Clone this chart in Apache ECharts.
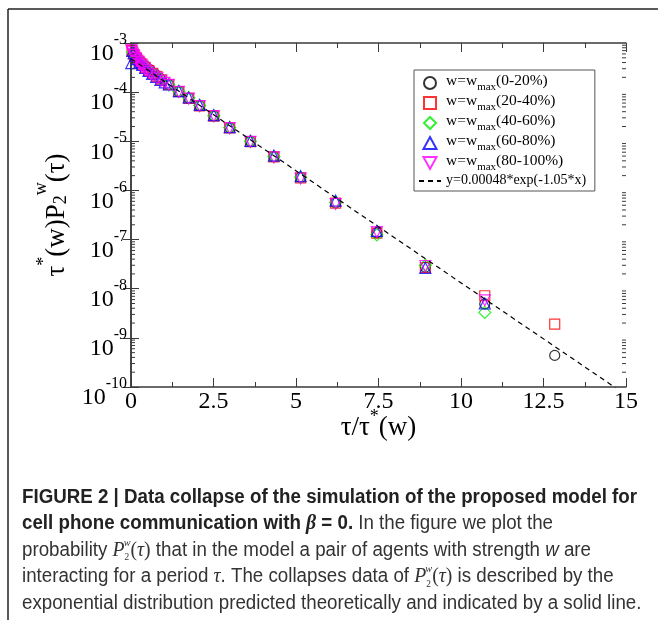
<!DOCTYPE html>
<html lang="en">
<head>
<meta charset="UTF-8" />
<title>Data collapse of P2w(tau)</title>
<script src="https://cdn.jsdelivr.net/npm/echarts@6/dist/echarts.min.js"></script>
<style>
  html, body { margin: 0; padding: 0; background: #fff; }
  #main { width: 658px; height: 620px; }
</style>
</head>
<body>
<div id="main"></div>
<script>
  // values (x = tau/tau*(w), y = tau*(w) P2w(tau))
  const w0_20X = [0.07, 0.18, 0.30, 0.43, 0.57, 0.72, 0.88, 1.145, 1.45, 1.75, 2.08, 2.51, 2.99, 3.62, 4.33, 5.14, 6.2, 7.45, 8.92, 10.72, 12.84];
  const w0_20Y = [6.2e-4, 5.0e-4, 4.1e-4, 3.4e-4, 2.85e-4, 2.35e-4, 1.9e-4, 1.43e-4, 1.03e-4, 7.6e-5, 5.3e-5, 3.3e-5, 1.9e-5, 9.9e-6, 4.9e-6, 1.85e-6, 5.6e-7, 1.38e-7, 2.75e-8, 4.9e-9, 4.4e-10];

  const w20_40X = [0.03, 0.09, 0.16, 0.24, 0.33, 0.43, 0.54, 0.66, 0.79, 0.93, 1.145, 1.45, 1.75, 2.08, 2.51, 2.99, 3.62, 4.33, 5.14, 6.2, 7.45, 8.92, 10.72, 12.84];
  const w20_40Y = [7.0e-4, 5.9e-4, 5.0e-4, 4.3e-4, 3.7e-4, 3.2e-4, 2.75e-4, 2.4e-4, 2.07e-4, 1.78e-4, 1.42e-4, 1.02e-4, 7.5e-5, 5.25e-5, 3.25e-5, 1.88e-5, 9.8e-6, 4.8e-6, 1.8e-6, 5.5e-7, 1.35e-7, 2.7e-8, 7.2e-9, 1.9e-9];

  const w40_60X = [0.05, 0.14, 0.24, 0.35, 0.47, 0.60, 0.74, 0.89, 1.145, 1.45, 1.75, 2.08, 2.51, 2.99, 3.62, 4.33, 5.14, 6.2, 7.45, 8.92, 10.72];
  const w40_60Y = [6.5e-4, 5.3e-4, 4.4e-4, 3.7e-4, 3.1e-4, 2.6e-4, 2.2e-4, 1.85e-4, 1.41e-4, 1.04e-4, 7.7e-5, 5.35e-5, 3.3e-5, 1.9e-5, 1.0e-5, 4.9e-6, 1.85e-6, 5.7e-7, 1.25e-7, 3.0e-8, 3.3e-9];

  const w60_80X = [0.01, 0.04, 0.08, 0.13, 0.19, 0.26, 0.34, 0.43, 0.53, 0.64, 0.76, 0.89, 1.02, 1.145, 1.45, 1.75, 2.08, 2.51, 2.99, 3.62, 4.33, 5.14, 6.2, 7.45, 8.92, 10.72];
  const w60_80Y = [3.9e-4, 6.9e-4, 6.2e-4, 5.5e-4, 4.7e-4, 4.1e-4, 3.6e-4, 3.1e-4, 2.7e-4, 2.35e-4, 2.05e-4, 1.78e-4, 1.58e-4, 1.43e-4, 1.05e-4, 7.8e-5, 5.5e-5, 3.4e-5, 1.95e-5, 1.02e-5, 5.1e-6, 1.95e-6, 6.2e-7, 1.5e-7, 2.65e-8, 5.0e-9];

  const w80_100X = [0.01, 0.03, 0.05, 0.07, 0.09, 0.12, 0.15, 0.18, 0.22, 0.26, 0.30, 0.35, 0.40, 0.46, 0.53, 0.61, 0.70, 0.80, 0.91, 1.02, 1.145, 1.45, 1.75, 2.08, 2.51, 2.99, 3.62, 4.33, 5.14, 6.2, 7.45, 8.92, 10.72];
  const w80_100Y = [7.2e-4, 6.6e-4, 6.1e-4, 5.7e-4, 5.4e-4, 5.0e-4, 4.7e-4, 4.4e-4, 4.1e-4, 3.8e-4, 3.55e-4, 3.3e-4, 3.05e-4, 2.8e-4, 2.55e-4, 2.3e-4, 2.1e-4, 1.9e-4, 1.7e-4, 1.55e-4, 1.4e-4, 1.01e-4, 7.4e-5, 5.2e-5, 3.25e-5, 1.85e-5, 9.7e-6, 4.7e-6, 1.75e-6, 5.3e-7, 1.42e-7, 2.9e-8, 5.8e-9];

  // y = 0.00048*exp(-1.05*x): straight on a log axis, so the two end points are enough
  const fitX = [0, 15];
  const fitY = [4.8e-4, 6.9e-11];

  const xTicks = [0, 2.5, 5, 7.5, 10, 12.5, 15];
  const yDecades = [-10, -9, -8, -7, -6, -5, -4, -3];

  const serif = '"Liberation Serif", "DejaVu Serif", serif';
  const sans = '"Liberation Sans", Arial, sans-serif';
  const axisColor = '#3a3a3a';

  const pairs = (xs, ys) => xs.map((x, i) => [x, ys[i]]);

  // log minor ticks (2..9 in each decade)
  const minorLogTicks = [];
  for (let e = yDecades[0]; e < yDecades[yDecades.length - 1]; e++) {
    for (let k = 2; k <= 9; k++) minorLogTicks.push([0, k * Math.pow(10, e)]);
  }

  function scatter(name, xs, ys, color, symbol, size, rotate) {
    return {
      name, type: 'scatter', data: pairs(xs, ys),
      symbol, symbolSize: size, symbolRotate: rotate || 0,
      itemStyle: { color: 'transparent', borderColor: color, borderWidth: 1.2 },
      xAxisIndex: 0, yAxisIndex: 0, z: 3
    };
  }

  // legend icons as paths so they keep their shape inside a 22px wide slot
  const icons = {
    circle: 'path://M0,6a6,6 0 1,0 12,0a6,6 0 1,0 -12,0z',
    square: 'path://M0,0H11V11H0Z',
    diamond: 'path://M6,0L12,6L6,12L0,6Z',
    triangle: 'path://M6,0L12,11L0,11Z',
    triangleDown: 'path://M0,0L12,0L6,11Z'
  };

  // caption: condensed look made from Liberation Sans squeezed horizontally
  const cv = document.createElement('canvas').getContext('2d');
  cv.font = 'bold 20px "Liberation Sans"';
  const boldW = cv.measureText('FIGURE 2 | Data collapse of the simulation of the proposed model for').width;
  const capScale = 615 / boldW;

  const capRich = {
    b: { fontFamily: sans, fontWeight: 'bold', fontSize: 20, fill: '#222' },
    bi: { fontFamily: serif, fontWeight: 'bold', fontStyle: 'italic', fontSize: 21, fill: '#222' },
    r: { fontFamily: sans, fontSize: 20, fill: '#333' },
    ri: { fontFamily: sans, fontStyle: 'italic', fontSize: 20, fill: '#333' },
    i: { fontFamily: serif, fontStyle: 'italic', fontSize: 21, fill: '#333' },
    s: { fontFamily: serif, fontSize: 21, fill: '#333' },
    sub: { fontFamily: serif, fontSize: 10, fill: '#333', verticalAlign: 'top', padding: [15, 0, 0, 0] },
    supi: { fontFamily: serif, fontStyle: 'italic', fontSize: 11, fill: '#333', verticalAlign: 'top', padding: [0, 0, 0, -6] }
  };
  const capLines = [
    '{b|FIGURE 2 | Data collapse of the simulation of the proposed model for}',
    '{b|cell phone communication with }{bi|β}{b| = 0.}{r| In the figure we plot the}',
    '{r|probability }{i|P}{sub|2}{supi|w}{s|(}{i|τ}{s|)}{r| that in the model a pair of agents with strength }{ri|w}{r| are}',
    '{r|interacting for a period }{i|τ}{r|. The collapses data of }{i|P}{sub|2}{supi|w}{s|(}{i|τ}{s|)}{r| is described by the}',
    '{r|exponential distribution predicted theoretically and indicated by a solid line.}'
  ];
  const capY = [497, 523.5, 550, 576.5, 603];

  const option = {
    animation: false,
    backgroundColor: '#fff',
    grid: { left: 131, right: 32, top: 43, bottom: 233, outerBoundsMode: 'none' },
    xAxis: [
      {
        type: 'value', min: 0, max: 15, interval: 2.5, position: 'bottom',
        name: '{t|τ/τ}{sup|*}{t|(w)}', nameLocation: 'middle', nameGap: 17,
        nameMoveOverlap: false,
        nameTextStyle: {
          rich: {
            t: { fontFamily: serif, fontSize: 27, color: '#000', verticalAlign: 'top', padding: [10, 0, 0, 0] },
            sup: { fontFamily: serif, fontSize: 18, color: '#000', verticalAlign: 'top', padding: [4, 0, 0, 0] }
          }
        },
        axisLine: { lineStyle: { color: axisColor, width: 1.5 } },
        axisTick: { inside: true, length: 9, lineStyle: { color: axisColor, width: 1 } },
        minorTick: { show: true, splitNumber: 2, length: 5, lineStyle: { color: axisColor, width: 1 } },
        splitLine: { show: false },
        axisLabel: {
          fontFamily: serif, fontSize: 24, color: '#000', margin: 3,
          formatter: v => (xTicks.indexOf(v) >= 0 ? String(v) : '')
        }
      },
      {
        type: 'value', min: 0, max: 15, interval: 2.5, position: 'top',
        axisLine: { lineStyle: { color: axisColor, width: 1.5 } },
        axisTick: { inside: true, length: 9, lineStyle: { color: axisColor, width: 1 } },
        minorTick: { show: true, splitNumber: 2, length: 5, lineStyle: { color: axisColor, width: 1 } },
        splitLine: { show: false },
        axisLabel: { show: false }
      }
    ],
    yAxis: [
      {
        type: 'log', logBase: 10, min: 1e-10, max: 1e-3, splitNumber: 7, position: 'left',
        name: '{t|τ}{sup|*}{t|(w)P}{sub|2}{sup2|w}{t|(τ)}',
        nameLocation: 'middle', nameRotate: 90, nameGap: 60,
        nameTextStyle: {
          rich: {
            t: { fontFamily: serif, fontSize: 27, color: '#000', verticalAlign: 'top', padding: [12, 0, 0, 0] },
            sup: { fontFamily: serif, fontSize: 18, color: '#000', verticalAlign: 'top', padding: [3, 0, 0, 0] },
            sub: { fontFamily: serif, fontSize: 18, color: '#000', verticalAlign: 'top', padding: [20, 0, 0, 0] },
            sup2: { fontFamily: serif, fontSize: 18, color: '#000', verticalAlign: 'top', padding: [0, 0, 0, 0] }
          }
        },
        axisLine: { lineStyle: { color: axisColor, width: 1.5 } },
        axisTick: { inside: true, length: 8, lineStyle: { color: axisColor, width: 1 } },
        splitLine: { show: false },
        axisLabel: {
          margin: 4,
          formatter: v => '{b|10}{s|' + Math.round(Math.log10(v)) + '}',
          rich: {
            b: { fontFamily: serif, fontSize: 24, color: '#000', verticalAlign: 'top', padding: [22, 0, 0, 0] },
            s: { fontFamily: serif, fontSize: 16, color: '#000', verticalAlign: 'top', padding: [12, 0, 0, 0] }
          }
        }
      },
      {
        type: 'log', logBase: 10, min: 1e-10, max: 1e-3, splitNumber: 7, position: 'right',
        axisLine: { lineStyle: { color: axisColor, width: 1.5 } },
        axisTick: { inside: true, length: 8, lineStyle: { color: axisColor, width: 1 } },
        splitLine: { show: false },
        axisLabel: { show: false }
      }
    ],
    legend: {
      orient: 'vertical', left: 414, top: 70,
      itemWidth: 22, itemHeight: 12, itemGap: 0,
      padding: [3, 6, 0, 4],
      borderColor: '#555', borderWidth: 1, borderRadius: 0,
      backgroundColor: '#fff',
      symbolKeepAspect: true,
      data: [
        { name: 'w0', icon: icons.circle },
        { name: 'w20', icon: icons.square },
        { name: 'w40', icon: icons.diamond },
        { name: 'w60', icon: icons.triangle },
        { name: 'w80', icon: icons.triangleDown },
        { name: 'fit' }
      ],
      formatter: name => ({
        w0: '{a|w=w}{m|max}{a|(0-20%)}',
        w20: '{a|w=w}{m|max}{a|(20-40%)}',
        w40: '{a|w=w}{m|max}{a|(40-60%)}',
        w60: '{a|w=w}{m|max}{a|(60-80%)}',
        w80: '{a|w=w}{m|max}{a|(80-100%)}',
        fit: '{f|y=0.00048*exp(-1.05*x)}{m| }'
      }[name]),
      textStyle: {
        rich: {
          a: { fontFamily: serif, fontSize: 15.5, color: '#000', verticalAlign: 'top', padding: [0, 0, 0, 0] },
          f: { fontFamily: serif, fontSize: 14, color: '#000', verticalAlign: 'top', padding: [2, 0, 0, 0] },
          m: { fontFamily: serif, fontSize: 11, color: '#000', verticalAlign: 'top', padding: [9, 0, 0, 0] }
        }
      }
    },
    series: [
      scatter('w0', w0_20X, w0_20Y, '#000000', 'circle', 10),
      scatter('w20', w20_40X, w20_40Y, '#ff0000', 'rect', 10),
      scatter('w40', w40_60X, w40_60Y, '#00ee00', 'diamond', 12),
      scatter('w60', w60_80X, w60_80Y, '#0000ff', 'triangle', 11),
      scatter('w80', w80_100X, w80_100Y, '#ff00ff', 'triangle', 11, 180),
      {
        name: 'fit', type: 'line', data: pairs(fitX, fitY),
        showSymbol: false, symbol: 'none', clip: true, z: 4,
        lineStyle: { color: '#000', width: 1.2, type: [5, 4] },
        itemStyle: { color: 'rgba(0,0,0,0)', borderWidth: 0 }
      },
      {
        type: 'custom', data: minorLogTicks, silent: true, z: 5, clip: false,
        xAxisIndex: 0, yAxisIndex: 0,
        renderItem: (params, api) => {
          const v = api.value(1);
          const a = api.coord([0, v]);
          const b = api.coord([15, v]);
          const st = { stroke: axisColor, lineWidth: 1 };
          return {
            type: 'group',
            children: [
              { type: 'line', shape: { x1: a[0], y1: a[1], x2: a[0] + 4, y2: a[1] }, style: st },
              { type: 'line', shape: { x1: b[0] - 4, y1: b[1], x2: b[0], y2: b[1] }, style: st }
            ]
          };
        }
      }
    ],
    graphic: [
      { type: 'line', shape: { x1: 8, y1: 620, x2: 8, y2: 9 }, style: { stroke: '#222', lineWidth: 1.5 } },
      { type: 'line', shape: { x1: 8, y1: 9, x2: 658, y2: 9 }, style: { stroke: '#222', lineWidth: 1.5 } },
      {
        type: 'group', x: 22, y: 0, scaleX: capScale,
        children: capLines.map((t, i) => ({
          type: 'text', x: 0, y: capY[i],
          style: { text: t, rich: capRich, verticalAlign: 'middle', align: 'left' }
        }))
      }
    ]
  };

  const chart = echarts.init(document.getElementById('main'), null, { renderer: 'canvas' });
  chart.setOption(option);
</script>
</body>
</html>
